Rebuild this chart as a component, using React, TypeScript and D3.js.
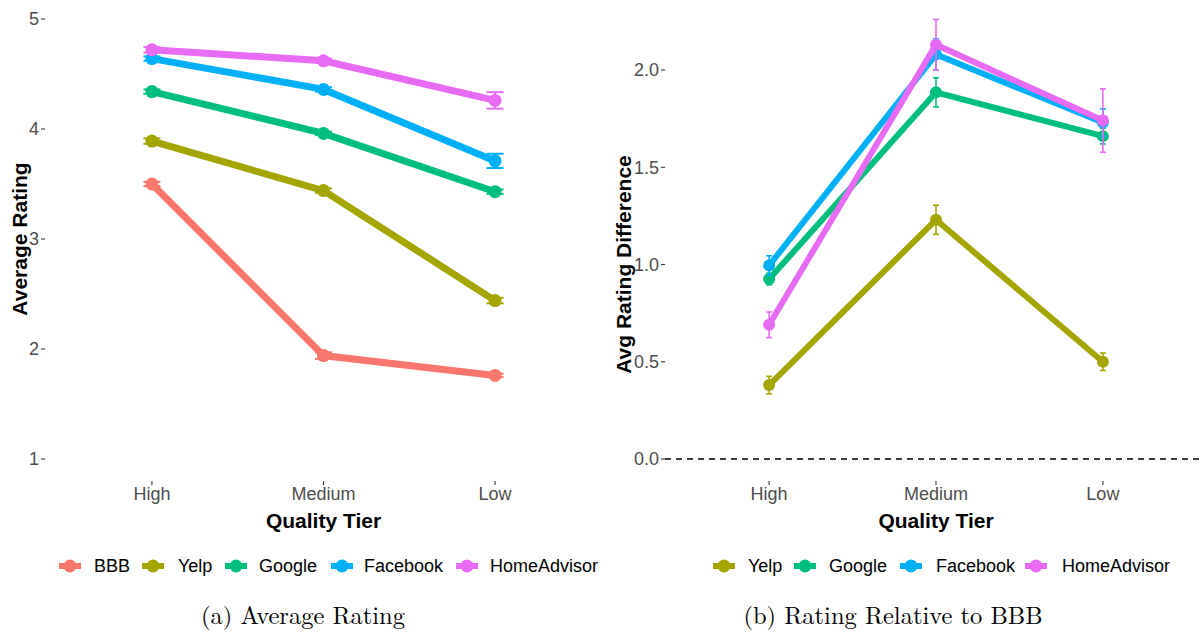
import React from "react";
import * as d3 from "d3";

const tiers = ["High", "Medium", "Low"];

const platformsA = ["BBB", "Yelp", "Google", "Facebook", "HomeAdvisor"];
const platformsB = ["Yelp", "Google", "Facebook", "HomeAdvisor"];

const colors: Record<string, string> = {
  BBB: "#F8766D",
  Yelp: "#A3A500",
  Google: "#00BF7D",
  Facebook: "#00B0F6",
  HomeAdvisor: "#E76BF3",
};

// Panel (a): average rating by tier
const avgBBB = [3.5, 1.94, 1.76];
const avgYelp = [3.89, 3.44, 2.44];
const avgGoogle = [4.34, 3.96, 3.43];
const avgFacebook = [4.64, 4.36, 3.71];
const avgHomeAdvisor = [4.72, 4.62, 4.26];
const seBBB = [0.02, 0.03, 0.015];
const seYelp = [0.025, 0.02, 0.025];
const seGoogle = [0.02, 0.015, 0.02];
const seFacebook = [0.02, 0.02, 0.065];
const seHomeAdvisor = [0.025, 0.02, 0.075];

// Panel (b): difference relative to BBB
const diffYelp = [0.38, 1.23, 0.5];
const diffGoogle = [0.925, 1.885, 1.66];
const diffFacebook = [0.995, 2.08, 1.73];
const diffHomeAdvisor = [0.69, 2.13, 1.74];
const seDiffYelp = [0.045, 0.075, 0.045];
const seDiffGoogle = [0.03, 0.075, 0.04];
const seDiffFacebook = [0.05, 0.08, 0.07];
const seDiffHomeAdvisor = [0.066, 0.13, 0.163];

const ticksA = [1, 2, 3, 4, 5];
const ticksB = [0, 0.5, 1.0, 1.5, 2.0];

const seriesA = [
  { name: "BBB", v: avgBBB, e: seBBB },
  { name: "Yelp", v: avgYelp, e: seYelp },
  { name: "Google", v: avgGoogle, e: seGoogle },
  { name: "Facebook", v: avgFacebook, e: seFacebook },
  { name: "HomeAdvisor", v: avgHomeAdvisor, e: seHomeAdvisor },
];
const seriesB = [
  { name: "Yelp", v: diffYelp, e: seDiffYelp },
  { name: "Google", v: diffGoogle, e: seDiffGoogle },
  { name: "Facebook", v: diffFacebook, e: seDiffFacebook },
  { name: "HomeAdvisor", v: diffHomeAdvisor, e: seDiffHomeAdvisor },
];

const SANS = "'Liberation Sans', Arial, Helvetica, sans-serif";
const SERIF = "'Latin Modern Roman', 'CMU Serif', 'DejaVu Serif', serif";

type Series = { name: string; v: number[]; e: number[] };

function Panel(props: {
  series: Series[];
  x0: number;
  x1: number;
  yDomain: [number, number];
  yRange: [number, number];
  ticks: number[];
  tickFmt: (d: number) => string;
  yTitle: string;
  yTitleX: number;
  lineW: number;
  r: number;
  capW: number;
  errW: number;
  zeroLine?: boolean;
}) {
  const x = d3.scalePoint<string>().domain(tiers).range([props.x0, props.x1]).padding(0.6);
  const y = d3.scaleLinear().domain(props.yDomain).range(props.yRange);
  const line = d3
    .line<number>()
    .x((_, i) => x(tiers[i]) as number)
    .y((d) => y(d));
  const axisX = props.x0 - 4;
  const midX = (props.x0 + props.x1) / 2;
  return (
    <g>
      {props.zeroLine && (
        <line
          x1={axisX}
          x2={props.x1}
          y1={y(0)}
          y2={y(0)}
          stroke="#000"
          strokeWidth={1.3}
          strokeDasharray="6,5"
        />
      )}
      {props.ticks.map((t) => (
        <g key={t}>
          <line x1={axisX - 4} x2={axisX} y1={y(t)} y2={y(t)} stroke="#333" strokeWidth={1.1} />
          <text
            x={axisX - 6}
            y={y(t)}
            dy="0.35em"
            textAnchor="end"
            fontFamily={SANS}
            fontSize={18}
            fill="#4D4D4D"
          >
            {props.tickFmt(t)}
          </text>
        </g>
      ))}
      {tiers.map((t) => (
        <g key={t}>
          <line x1={x(t)} x2={x(t)} y1={481} y2={485} stroke="#333" strokeWidth={1.1} />
          <text
            x={x(t)}
            y={500}
            textAnchor="middle"
            fontFamily={SANS}
            fontSize={18}
            fill="#4D4D4D"
          >
            {t}
          </text>
        </g>
      ))}
      <text
        x={midX}
        y={528}
        textAnchor="middle"
        fontFamily={SANS}
        fontWeight="bold"
        fontSize={21}
        fill="#000"
      >
        Quality Tier
      </text>
      <text
        transform={`translate(${props.yTitleX},${(props.yRange[0] + props.yRange[1]) / 2}) rotate(-90)`}
        textAnchor="middle"
        fontFamily={SANS}
        fontWeight="bold"
        fontSize={21}
        fill="#000"
      >
        {props.yTitle}
      </text>
      {props.series.map((s) => (
        <g key={s.name}>
          <path d={line(s.v) || ""} fill="none" stroke={colors[s.name]} strokeWidth={props.lineW} />
          {s.v.map((v, i) => {
            const cx = x(tiers[i]) as number;
            const lo = y(v - s.e[i]);
            const hi = y(v + s.e[i]);
            return (
              <g key={i} stroke={colors[s.name]} strokeWidth={props.errW}>
                <line x1={cx} x2={cx} y1={lo} y2={hi} />
                <line x1={cx - props.capW} x2={cx + props.capW} y1={lo} y2={lo} />
                <line x1={cx - props.capW} x2={cx + props.capW} y1={hi} y2={hi} />
                <circle cx={cx} cy={y(v)} r={props.r} fill={colors[s.name]} stroke="none" />
              </g>
            );
          })}
        </g>
      ))}
    </g>
  );
}

function Legend(props: { names: string[]; keyX: number[]; textX: number[] }) {
  const yy = 566;
  return (
    <g>
      {props.names.map((n, i) => (
        <g key={n}>
          <line
            x1={props.keyX[i]}
            x2={props.keyX[i] + 22}
            y1={yy}
            y2={yy}
            stroke={colors[n]}
            strokeWidth={6}
          />
          <circle cx={props.keyX[i] + 11} cy={yy} r={6.5} fill={colors[n]} />
          <text
            x={props.textX[i]}
            y={yy}
            dy="0.36em"
            fontFamily={SANS}
            fontSize={18}
            fill="#000"
          >
            {n}
          </text>
        </g>
      ))}
    </g>
  );
}

export default function App() {
  return (
    <svg
      width={1203}
      height={632}
      style={{ position: "absolute", left: 0, top: 0, background: "#fff" }}
    >
      <rect width={1203} height={632} fill="#fff" />
      <Panel
        series={seriesA}
        x0={49}
        x1={598}
        yDomain={[1, 5]}
        yRange={[459, 19]}
        ticks={ticksA}
        tickFmt={(d) => String(d)}
        yTitle="Average Rating"
        yTitleX={27}
        lineW={7}
        r={6.5}
        capW={8.5}
        errW={2}
      />
      <Panel
        series={seriesB}
        x0={669}
        x1={1203}
        yDomain={[0, 2]}
        yRange={[459, 70]}
        ticks={ticksB}
        tickFmt={(d) => d3.format(".1f")(d)}
        yTitle="Avg Rating Difference"
        yTitleX={631}
        lineW={6}
        r={6}
        capW={3}
        errW={1.6}
        zeroLine
      />
      <Legend
        names={platformsA}
        keyX={[59, 142, 225, 331, 456]}
        textX={[94, 178, 259, 364, 490]}
      />
      <Legend
        names={platformsB}
        keyX={[713, 794, 900, 1025]}
        textX={[748, 829, 936, 1062]}
      />
      <text x={303} y={624} textAnchor="middle" fontFamily={SERIF} fontSize={24.5} fill="#000">
        (a) Average Rating
      </text>
      <text x={893} y={624} textAnchor="middle" fontFamily={SERIF} fontSize={24.5} fill="#000">
        (b) Rating Relative to BBB
      </text>
    </svg>
  );
}
